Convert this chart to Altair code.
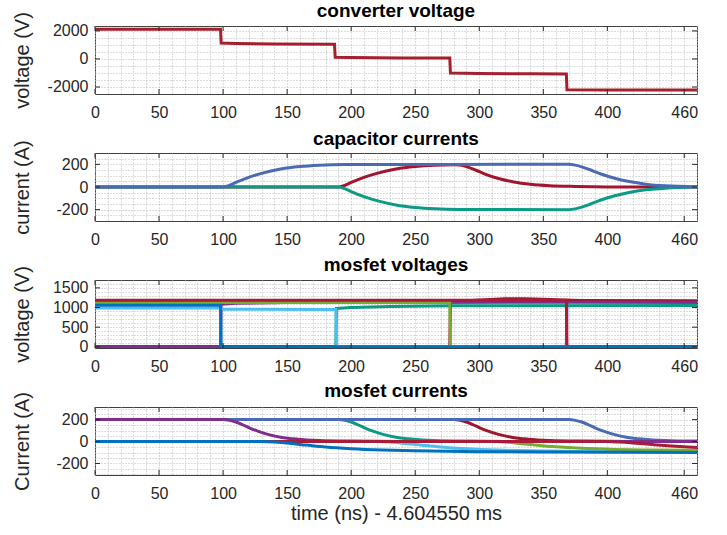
import altair as alt
import pandas as pd

# ---------------- data ----------------
# shared time axis (ns)
X_MAJOR = [0, 50, 100, 150, 200, 250, 300, 350, 400, 460]
X_DOMAIN = [0, 470]

# panel 1: converter voltage (V)
conv_t = [0, 98, 98.5, 110, 140, 187, 187.5, 200, 240, 277, 277.5, 300, 340, 368, 368.5, 400, 470]
conv_v = [2120, 2120, 1130, 1100, 1070, 1055, 120, 100, 75, 60, -1000, -1030, -1060, -1075, -2190, -2210, -2220]

# panel 2: capacitor currents (A)
cc_red_t = [0, 190, 195, 200, 210, 220, 235, 250, 265, 280, 285, 290, 297, 305, 315, 327, 340, 355, 375, 400, 470]
cc_red_v = [0, 0, 15, 40, 85, 120, 158, 180, 192, 196, 193, 180, 150, 112, 75, 45, 25, 12, 5, 1, 0]
cc_green_t = [0, 190, 195, 200, 210, 220, 235, 250, 265, 285, 370, 375, 380, 387, 395, 405, 417, 430, 445, 470]
cc_green_v = [0, 0, -15, -40, -85, -120, -158, -180, -192, -198, -200, -193, -178, -150, -115, -80, -48, -25, -10, -1]
cc_blue_t = [0, 100, 105, 110, 120, 130, 145, 160, 175, 195, 370, 375, 380, 387, 395, 405, 417, 430, 445, 470]
cc_blue_v = [0, 0, 15, 40, 85, 120, 158, 180, 192, 198, 200, 193, 178, 150, 115, 80, 48, 25, 10, 1]

# panel 3: mosfet voltages (V)
mv_bg_t = [0, 368, 368.5, 380, 420, 470]
mv_bg_v = [0, 0, 1150, 1155, 1140, 1130]
mv_teal_t = [0, 188, 188.5, 200, 230, 280, 470]
mv_teal_v = [0, 0, 975, 1000, 1025, 1045, 1050]
mv_red_t = [0, 277, 277.5, 290, 305, 320, 335, 350, 365, 380, 470]
mv_red_v = [0, 0, 1150, 1170, 1200, 1225, 1225, 1210, 1190, 1180, 1175]
mv_purple_t = [0, 98, 98.5, 110, 150, 250, 370, 470]
mv_purple_v = [0, 0, 1080, 1110, 1125, 1130, 1135, 1135]
mv_green_t = [0, 277, 277.5, 470]
mv_green_v = [1130, 1130, 0, 0]
mv_lblue_t = [0, 98, 100, 188, 188.5, 470]
mv_lblue_v = [990, 985, 955, 950, 0, 0]
mv_crim_t = [0, 368, 368.5, 470]
mv_crim_v = [1185, 1185, 0, 0]
mv_dblue_t = [0, 98, 98.5, 470]
mv_dblue_v = [1060, 1060, 0, 0]

# panel 4: mosfet currents (A)
mi_lblue_t = [0, 220, 230, 240, 255, 270, 290, 315, 340, 390, 470]
mi_lblue_v = [0, 0, -5, -15, -33, -50, -66, -78, -85, -92, -96]
mi_green_t = [0, 310, 320, 330, 345, 360, 380, 405, 430, 470]
mi_green_v = [0, 0, -5, -15, -33, -48, -62, -72, -77, -80]
mi_teal_t = [0, 190, 195, 200, 205, 210, 217, 225, 235, 248, 265, 290, 330, 470]
mi_teal_v = [200, 200, 193, 178, 155, 128, 95, 65, 40, 22, 10, 4, 1, 0]
mi_red_t = [0, 280, 285, 290, 295, 300, 307, 315, 325, 338, 355, 380, 420, 470]
mi_red_v = [200, 200, 193, 178, 155, 128, 95, 65, 40, 22, 10, 4, 1, 0]
mi_bg_t = [0, 370, 375, 380, 385, 390, 397, 405, 415, 428, 445, 470]
mi_bg_v = [200, 200, 193, 178, 155, 128, 95, 65, 40, 22, 10, 4]
mi_purple_t = [0, 100, 105, 110, 115, 120, 127, 135, 145, 158, 175, 200, 240, 470]
mi_purple_v = [200, 200, 193, 178, 155, 128, 95, 65, 40, 22, 10, 4, 1, 0]
mi_crim_t = [0, 400, 410, 420, 435, 450, 470]
mi_crim_v = [0, 0, -5, -13, -27, -40, -55]
mi_dblue_t = [0, 130, 140, 150, 165, 180, 200, 225, 250, 300, 360, 470]
mi_dblue_v = [0, 0, -4, -14, -32, -50, -66, -78, -85, -92, -96, -100]

# ---------------- styling ----------------
C_CONV = "#A4202E"
C_RED = "#A2142F"
C_CRIM = "#A81C3A"
C_BG = "#4A6AB3"
C_TEAL = "#0B9B84"
C_PURPLE = "#7E2F8E"
C_DBLUE = "#0072BD"
C_LBLUE = "#4DBEEE"
C_GREEN = "#77AC30"

W, H = 602, 68
FONT = "Liberation Sans"
TXT = "#262626"
GRID = "#b8b8b8"
X_MINOR = list(range(0, 471, 10))
TICK_FS = 16
AXT_FS = 20
TITLE_FS = 19


def label_expr(major):
    arr = ",".join(str(m) for m in major)
    return f"indexof([{arr}], datum.value) >= 0 ? '' + datum.value : ''"


def panel(series, ydomain, ymajor, yminor, ytitle, title, interp, xtitle=None):
    xaxis = alt.Axis(
        values=X_MINOR, grid=True, gridDash=[1, 2], gridColor=GRID, gridWidth=1,
        ticks=False, domain=False, labelExpr=label_expr(X_MAJOR),
        labelOverlap=False, labelFlush=False, labelFontSize=TICK_FS, labelColor=TXT,
        labelFont=FONT, labelPadding=10,
        title=xtitle if xtitle else "", titleFontSize=AXT_FS, titleFont=FONT,
        titleColor=TXT, titleFontWeight="normal", titlePadding=2,
    )
    yaxis = alt.Axis(
        values=yminor, grid=True, gridDash=[1, 2], gridColor=GRID, gridWidth=1,
        ticks=False, domain=False, labelExpr=label_expr(ymajor),
        labelOverlap=False, labelFlush=False, labelFontSize=TICK_FS, labelColor=TXT,
        labelFont=FONT, labelPadding=7,
        title=ytitle, titleFontSize=AXT_FS, titleFont=FONT, titleColor=TXT,
        titleFontWeight="normal", titleX=-73, titleY=H / 2, titleBaseline="middle",
    )
    xs = alt.Scale(domain=X_DOMAIN, nice=False, zero=False)
    ys = alt.Scale(domain=ydomain, nice=False, zero=False)
    layers = []
    for t, v, color in series:
        df = pd.DataFrame({"t": t, "v": v})
        layers.append(
            alt.Chart(df).mark_line(color=color, strokeWidth=3, interpolate=interp, clip=True).encode(
                x=alt.X("t:Q", axis=xaxis, scale=xs),
                y=alt.Y("v:Q", axis=yaxis, scale=ys),
                order=alt.Order("t:Q"),
            )
        )
    xt = pd.DataFrame({"t": X_MAJOR})
    yt = pd.DataFrame({"v": ymajor})
    tick = dict(color=TXT, strokeWidth=1)
    layers.append(alt.Chart(xt).mark_rule(**tick).encode(
        x=alt.X("t:Q", axis=xaxis, scale=xs), y=alt.value(H), y2=alt.value(H - 5)))
    layers.append(alt.Chart(xt).mark_rule(**tick).encode(
        x=alt.X("t:Q", axis=xaxis, scale=xs), y=alt.value(0), y2=alt.value(5)))
    layers.append(alt.Chart(yt).mark_rule(**tick).encode(
        y=alt.Y("v:Q", axis=yaxis, scale=ys), x=alt.value(0), x2=alt.value(5)))
    layers.append(alt.Chart(yt).mark_rule(**tick).encode(
        y=alt.Y("v:Q", axis=yaxis, scale=ys), x=alt.value(W), x2=alt.value(W - 5)))
    return alt.layer(*layers).properties(
        width=W, height=H,
        title=alt.TitleParams(title, fontSize=TITLE_FS, fontWeight="bold", font=FONT,
                              color="#000000", offset=4, anchor="middle", frame="group",
                              dy=13),
    )


p1 = panel([(conv_t, conv_v, C_CONV)], [-2500, 2350], [-2000, 0, 2000],
           list(range(-2000, 2001, 500)), "voltage (V)", "converter voltage", "linear")
p2 = panel([(cc_red_t, cc_red_v, C_RED), (cc_green_t, cc_green_v, C_TEAL),
            (cc_blue_t, cc_blue_v, C_BG)], [-300, 300], [-200, 0, 200],
           list(range(-250, 251, 50)), "current (A)", "capacitor currents", "monotone")
p3 = panel([(mv_bg_t, mv_bg_v, C_BG), (mv_teal_t, mv_teal_v, C_TEAL),
            (mv_red_t, mv_red_v, C_RED), (mv_purple_t, mv_purple_v, C_PURPLE),
            (mv_green_t, mv_green_v, C_GREEN), (mv_lblue_t, mv_lblue_v, C_LBLUE),
            (mv_crim_t, mv_crim_v, C_CRIM), (mv_dblue_t, mv_dblue_v, C_DBLUE)],
           [-30, 1700], [0, 500, 1000, 1500], list(range(0, 1601, 100)),
           "voltage (V)", "mosfet voltages", "linear")
p4 = panel([(mi_lblue_t, mi_lblue_v, C_LBLUE), (mi_green_t, mi_green_v, C_GREEN),
            (mi_teal_t, mi_teal_v, C_TEAL), (mi_red_t, mi_red_v, C_RED),
            (mi_bg_t, mi_bg_v, C_BG), (mi_purple_t, mi_purple_v, C_PURPLE),
            (mi_crim_t, mi_crim_v, C_CRIM), (mi_dblue_t, mi_dblue_v, C_DBLUE)],
           [-305, 315], [-200, 0, 200], list(range(-300, 301, 50)),
           "Current (A)", "mosfet currents", "monotone", xtitle="time (ns) - 4.604550 ms")

chart = alt.vconcat(p1, p2, p3, p4, spacing=59, bounds="flush").properties(
    padding={"left": 11, "top": 1, "right": 5, "bottom": 5},
    background="white",
).configure_view(stroke="#404040", strokeWidth=1)

chart.save("out.html", embed_options={"renderer": "svg", "actions": False})
